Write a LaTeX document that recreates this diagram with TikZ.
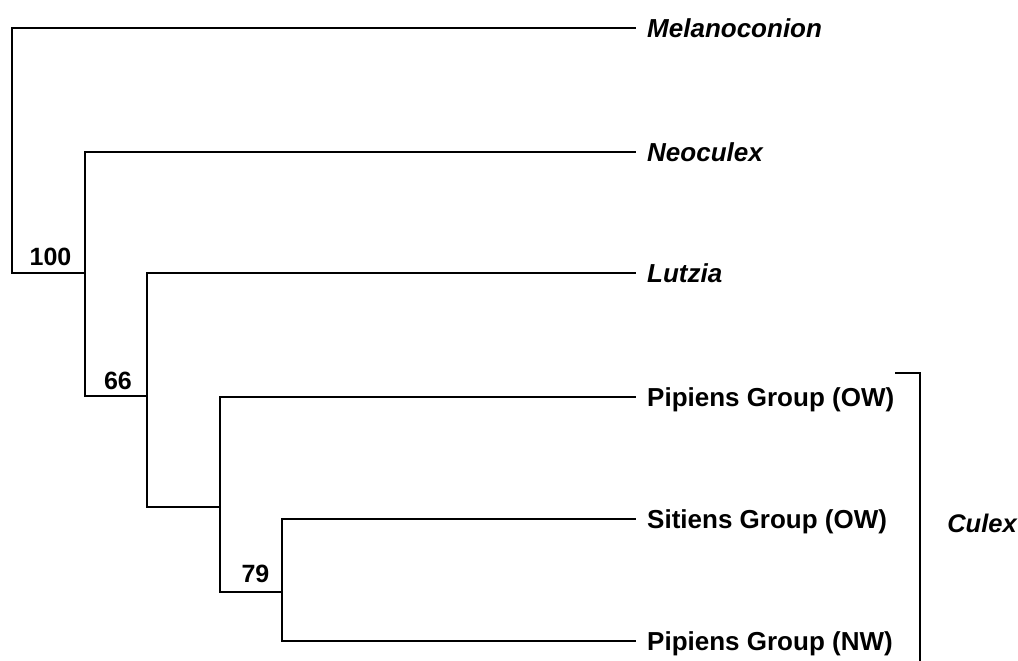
\documentclass[tikz,border=0pt]{standalone}
\usepackage{fontspec}
\setmainfont{Liberation Sans}
\begin{document}
\begin{tikzpicture}[x=1pt,y=-1pt,
  branch/.style={line width=2pt,line join=miter,line cap=rect},
  leaf/.style={anchor=west,inner xsep=12pt,inner ysep=0pt,text height=18.6pt,text depth=0pt,
    font=\fontsize{26}{30}\selectfont\bfseries},
  genus/.style={leaf,font=\fontsize{26}{30}\selectfont\bfseries\itshape},
  boot/.style={inner sep=0pt,text height=18.3pt,text depth=0pt,
    font=\fontsize{25}{30}\selectfont\bfseries}]
\useasboundingbox (0,0) rectangle (1018,661);
% leaves
\node[genus] (mel) at (635,28) {Melanoconion};
\node[genus] (neo) at (635,152) {Neoculex};
\node[genus] (lut) at (635,273) {Lutzia};
\node[leaf] (pow) at (635,397) {Pipiens Group (OW)};
\node[leaf] (sit) at (635,519) {Sitiens Group (OW)};
\node[leaf] (pnw) at (635,641) {Pipiens Group (NW)};
% internal points
\coordinate (rA) at (12,273);
\coordinate (A) at (85,273);
\coordinate (Ain) at (85,396);
\coordinate (B) at (147,396);
\coordinate (Bin) at (147,507);
\coordinate (C) at (220,507);
\coordinate (Cin) at (220,592);
\coordinate (D) at (282,592);
\coordinate (Din) at (282,641);
% branches
\draw[branch] (mel.west) -| (rA) -- (A);
\draw[branch] (neo.west) -| (Ain) -- (B);
\draw[branch] (lut.west) -| (Bin) -- (C);
\draw[branch] (pow.west) -| (Cin) -- (D);
\draw[branch] (sit.west) -| (Din) -- (pnw.west);
% bootstrap values
\node[boot] (b100) at (50.5,256) {100};
\node[boot] (b66) at (118,380) {66};
\node[boot] (b79) at (255.5,573.5) {79};
% Culex bracket
\coordinate (bt) at (895,373);
\coordinate (bb) at (920,664);
\draw[branch,line cap=butt] (bt) -| (bb);
\node[boot,font=\fontsize{25.5}{30}\selectfont\bfseries\itshape] (culex) at (982,523) {Culex};
\end{tikzpicture}
\end{document}
